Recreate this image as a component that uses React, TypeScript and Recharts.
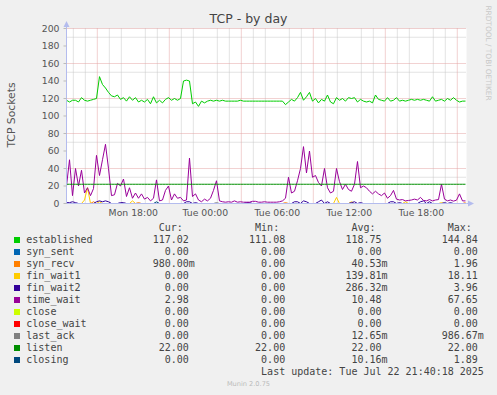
import React from 'react';
import { LineChart, Line, XAxis, YAxis, CartesianGrid } from 'recharts';

// sampling: one value every 15 minutes, starting Mon 12:26 (hours since Mon 00:00)
const START_HOUR = 12.433;
const STEP_HOURS = 0.25;
const X_DOMAIN: [number, number] = [12.433, 45.767];

const established = [
  118, 116, 118, 118, 116, 121, 118, 117, 118, 119, 120,
  145, 136, 132, 127, 123, 122, 124, 119, 121, 117, 122,
  118, 121, 116, 118, 116, 119, 114, 122, 115, 118, 115,
  119, 121, 118, 120, 118, 120, 140, 141, 140, 114, 116,
  111, 117, 115, 117, 118, 117, 118, 117, 118, 117,
  117, 117, 117, 117, 118, 117, 117, 117, 117, 117, 117, 117, 117, 117, 117, 117, 117, 117,
  117, 113, 116, 119, 117, 121, 127, 118, 122, 127, 117,
  120, 115, 119, 117, 124, 116, 114, 121, 118, 120, 117,
  121, 120, 121, 116, 119, 117, 116, 117, 115, 124, 119,
  118, 117, 121, 117, 118, 121, 117, 118, 117, 118, 119,
  118, 119, 118, 119, 118, 117, 122, 117, 118, 119, 117,
  120, 118, 121, 118, 116, 117, 117.02,
];

const timeWait = [
  20, 50, 9, 40, 20, 38, 12, 18, 9, 17, 55,
  32, 50, 67.65, 40, 9, 10, 23, 20, 28, 8, 18,
  6, 12, 6, 11, 5, 7, 3, 6, 27, 3, 4,
  15, 20, 4, 11, 6, 7, 3, 4, 52, 8, 11,
  4, 2, 5, 3, 6, 15, 26, 3, 2, 1.5,
  2, 1.5, 3, 1.5, 2, 1.5, 1.5, 1.5, 2.5, 2.5, 1.5, 1.5, 2, 1.5, 1.5, 1.5, 1.5, 2,
  3, 6, 30, 12, 14, 26, 40, 65, 35, 60, 30,
  32, 24, 20, 40, 18, 12, 14, 40, 25, 16, 22,
  16, 14, 22, 48, 18, 20, 18, 14, 11, 14, 11,
  9, 12, 6, 9, 15, 5, 4, 4.5, 3, 3.5, 4,
  5, 4, 7, 3.5, 3, 4.5, 3, 4, 4.5, 22, 5,
  3, 4, 2.7, 3.8, 11, 3, 2.98,
];

const listenLevel = 22;

// sparse series: [sample index, value], zero elsewhere
const synRecvPoints: [number, number][] = [[9, 2], [24, 1], [73, 1], [133, 0.98]];
const finWait1Points: [number, number][] = [[6, 4], [7, 18.11], [11, 2], [22, 3], [90, 7], [95, 2], [113, 2], [125, 1]];
const finWait2Points: [number, number][] = [
  [0, 1], [1, 1], [2, 2], [3, 1], [10, 2], [11, 3], [12, 2], [13, 3], [14, 2], [18, 1], [19, 1],
  [40, 2], [41, 2], [43, 1], [60, 1], [61, 1], [76, 2], [77, 2], [79, 3], [80, 2], [84, 2], [85, 3.96],
  [87, 2], [95, 1], [96, 2], [98, 1], [108, 2], [109, 2], [111, 1], [118, 2], [119, 3], [121, 2], [126, 1], [128, 1],
];
const closingPoints: [number, number][] = [[30, 1.89]];
const lastAckPoints: [number, number][] = [[50, 0.99]];

const xTicks = [18, 24, 30, 36, 42];
const xTickLabels = ['Mon 18:00', 'Tue 00:00', 'Tue 06:00', 'Tue 12:00', 'Tue 18:00'];
const yTicks = [0, 20, 40, 60, 80, 100, 120, 140, 160, 180, 200];
const minorHours = [13, 14, 16, 17, 19, 20, 22, 23, 25, 26, 28, 29, 31, 32, 34, 35, 37, 38, 40, 41, 43, 44];
const majorHours = [15, 18, 21, 24, 27, 30, 33, 36, 39, 42, 45];
const minorValues = [10, 30, 50, 70, 90, 110, 130, 150, 170, 190];
const majorValues = [20, 40, 60, 80, 100, 120, 140, 160, 180, 200];

const seriesKeys = ['established', 'syn_sent', 'syn_recv', 'fin_wait1', 'fin_wait2', 'time_wait', 'close', 'close_wait', 'last_ack', 'listen', 'closing'];
const seriesColors = ['#00CC00', '#0066B3', '#FF8000', '#FFCC00', '#330099', '#990099', '#CCFF00', '#FF0000', '#808080', '#008F00', '#00487D'];
const curValues = ['117.02', '0.00', '980.00m', '0.00', '0.00', '2.98', '0.00', '0.00', '0.00', '22.00', '0.00'];
const minValues = ['111.08', '0.00', '0.00', '0.00', '0.00', '0.00', '0.00', '0.00', '0.00', '22.00', '0.00'];
const avgValues = ['118.75', '0.00', '40.53m', '139.81m', '286.32m', '10.48', '0.00', '0.00', '12.65m', '22.00', '10.16m'];
const maxValues = ['144.84', '0.00', '1.96', '18.11', '3.96', '67.65', '0.00', '0.00', '986.67m', '22.00', '1.89'];
const lastUpdate = 'Last update: Tue Jul 22 21:40:18 2025';

const sparse = (pts: [number, number][]) => {
  const m = new Map<number, number>();
  pts.forEach(([i, v]) => m.set(i, v));
  return (i: number) => m.get(i) ?? 0;
};
const synRecvAt = sparse(synRecvPoints);
const finWait1At = sparse(finWait1Points);
const finWait2At = sparse(finWait2Points);
const closingAt = sparse(closingPoints);
const lastAckAt = sparse(lastAckPoints);

const data = established.map((v, i) => ({
  t: START_HOUR + i * STEP_HOURS,
  established: v,
  syn_sent: 0,
  syn_recv: synRecvAt(i),
  fin_wait1: finWait1At(i),
  fin_wait2: finWait2At(i),
  time_wait: timeWait[i],
  close: 0,
  close_wait: 0,
  last_ack: lastAckAt(i),
  listen: listenLevel,
  closing: closingAt(i),
}));

const cell = (s: string) => {
  const hasM = s.endsWith('m');
  const num = hasM ? s.slice(0, -1) : s;
  return num.padStart(6, ' ') + (hasM ? 'm' : ' ');
};
const gap = ' '.repeat(9);
const headerLine = ' '.repeat(22) + 'Cur:' + ' '.repeat(12) + 'Min:' + ' '.repeat(12) + 'Avg:' + ' '.repeat(12) + 'Max:';

const AXIS_COLOR = '#b4bcee';
const mono = '"DejaVu Sans Mono", monospace';
const sans = '"DejaVu Sans", sans-serif';
const LEGEND_TOP = 222;

export default function App() {
  const xLabel = (v: number) => xTickLabels[xTicks.indexOf(v)] ?? '';
  return (
    <div style={{ position: 'absolute', left: 0, top: 0, width: 497, height: 395, background: '#f0f0f0', overflow: 'hidden' }}>
      <div style={{ position: 'absolute', left: 0, top: 10, width: 497, textAlign: 'center', fontFamily: sans, fontSize: 12.5, color: '#444', lineHeight: '18px' }}>
        TCP - by day
      </div>
      <div style={{ position: 'absolute', left: 11, top: 115, transform: 'translate(-50%, -50%) rotate(-90deg)', fontFamily: sans, fontSize: 10.8, color: '#555', whiteSpace: 'nowrap' }}>
        TCP Sockets
      </div>
      <div style={{ position: 'absolute', left: 487.5, top: 53, transform: 'translate(-50%, -50%) rotate(90deg)', fontFamily: sans, fontSize: 7.4, color: '#c8c8c8', whiteSpace: 'nowrap' }}>
        RRDTOOL / TOBI OETIKER
      </div>
      <div style={{ position: 'absolute', left: 0, top: 0 }}>
        <LineChart width={497} height={230} data={data} margin={{ top: 28.5, right: 30.5, left: 0.5, bottom: 0 }}>
          <CartesianGrid fill="#ffffff" stroke="#c6c6c6" strokeDasharray="1 1" horizontalValues={minorValues} verticalValues={minorHours} />
          <CartesianGrid fill="none" stroke="#e4a4a4" strokeDasharray="1 1" horizontalValues={majorValues} verticalValues={majorHours} />
          <XAxis
            dataKey="t"
            type="number"
            domain={X_DOMAIN}
            ticks={xTicks}
            tickFormatter={xLabel}
            height={26.5}
            tickLine={false}
            tickSize={3}
            tickMargin={2.5}
            axisLine={{ stroke: AXIS_COLOR }}
            tick={{ fontFamily: sans, fontSize: 9.3, fill: '#555' }}
            allowDataOverflow
          />
          <YAxis
            type="number"
            domain={[0, 200]}
            ticks={yTicks}
            width={66}
            tickSize={3}
            tickMargin={4}
            tickLine={{ stroke: '#bbb' }}
            axisLine={{ stroke: AXIS_COLOR }}
            tick={{ fontFamily: sans, fontSize: 9.3, fill: '#555' }}
            allowDataOverflow
          />
          {seriesKeys.map((k, idx) => (
            <Line
              key={k}
              dataKey={k}
              type="linear"
              stroke={seriesColors[idx]}
              strokeWidth={1}
              dot={false}
              activeDot={false}
              isAnimationActive={false}
            />
          ))}
        </LineChart>
      </div>
      <svg width={497} height={395} style={{ position: 'absolute', left: 0, top: 0, pointerEvents: 'none' }}>
        <line x1={66.5} y1={28.5} x2={66.5} y2={24} stroke={AXIS_COLOR} />
        <polygon points="63.5,27 69.5,27 66.5,21" fill={AXIS_COLOR} />
        <line x1={466.5} y1={203.5} x2={469} y2={203.5} stroke={AXIS_COLOR} />
        <polygon points="468,200.5 468,206.5 474,203.5" fill={AXIS_COLOR} />
      </svg>
      <div style={{ position: 'absolute', left: 26.3, top: LEGEND_TOP, fontFamily: mono, fontSize: 10, lineHeight: '12px', color: '#444', whiteSpace: 'pre' }}>
        {headerLine}
      </div>
      {seriesKeys.map((k, idx) => (
        <div key={k} style={{ position: 'absolute', left: 0, top: LEGEND_TOP + 12 * (idx + 1), width: 497, height: 12 }}>
          <div style={{ position: 'absolute', left: 14, top: 3, width: 6, height: 6, background: seriesColors[idx] }} />
          <div style={{ position: 'absolute', left: 26.3, top: 0, fontFamily: mono, fontSize: 10, lineHeight: '12px', color: '#444', whiteSpace: 'pre' }}>
            {k.padEnd(21, ' ') + cell(curValues[idx]) + gap + cell(minValues[idx]) + gap + cell(avgValues[idx]) + gap + cell(maxValues[idx])}
          </div>
        </div>
      ))}
      <div style={{ position: 'absolute', left: 26.3, top: LEGEND_TOP + 12 * 12, fontFamily: mono, fontSize: 10, lineHeight: '12px', color: '#444', whiteSpace: 'pre' }}>
        {' '.repeat(39) + lastUpdate}
      </div>
      <div style={{ position: 'absolute', left: 0, top: 379, width: 497, textAlign: 'center', fontFamily: sans, fontSize: 6.6, color: '#bbb', lineHeight: '10px' }}>
        Munin 2.0.75
      </div>
    </div>
  );
}
